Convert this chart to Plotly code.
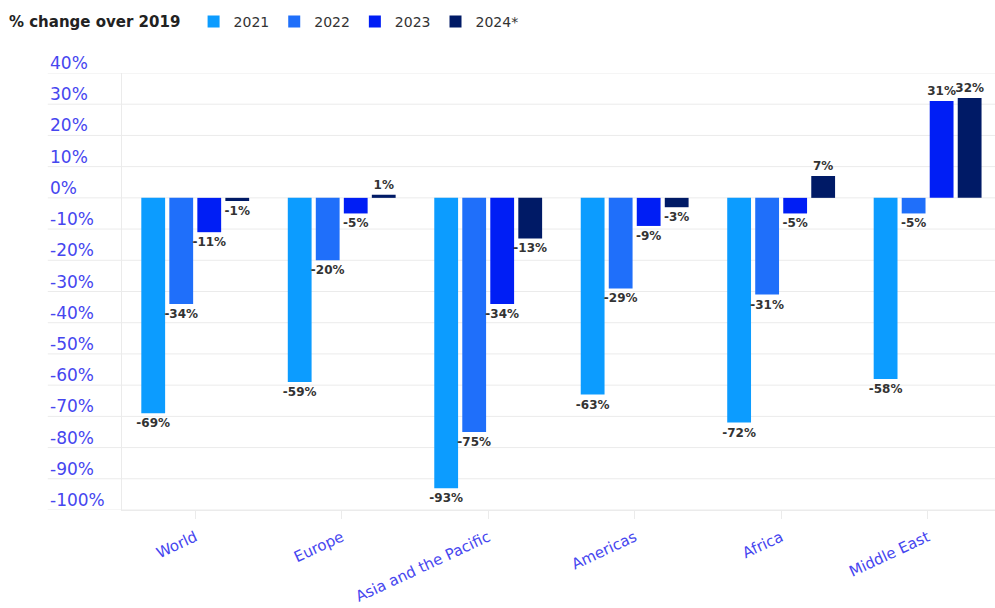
import plotly.graph_objects as go

regions = ["World", "Europe", "Asia and the Pacific", "Americas", "Africa", "Middle East"]
series_names = ["2021", "2022", "2023", "2024*"]
v2021 = [-69, -59, -93, -63, -72, -58]
v2022 = [-34, -20, -75, -29, -31, -5]
v2023 = [-11, -5, -34, -9, -5, 31]
v2024 = [-1, 1, -13, -3, 7, 32]
y_ticks = [40, 30, 20, 10, 0, -10, -20, -30, -40, -50, -60, -70, -80, -90, -100]
y_tick_labels = [f"{t}%" for t in y_ticks]

colors = ["#0c9cff", "#1f6ffa", "#001ef5", "#001a66"]
values = [v2021, v2022, v2023, v2024]

FONT = "DejaVu Sans"
TICK_COLOR = "#4646ef"
GRID = "#ebebeb"

fig = go.Figure()
for name, vals, col in zip(series_names, values, colors):
    fig.add_trace(go.Bar(
        x=regions, y=vals, name=name,
        marker=dict(color=col, line=dict(width=0)),
        text=[f"{v}%" for v in vals], texttemplate="%{text}", textposition="outside",
        textfont=dict(family=FONT, size=12, color="#333333", weight="bold"),
        cliponaxis=False, constraintext="none",
    ))

shapes = []
for t in y_ticks:
    shapes.append(dict(type="line", xref="paper", yref="y", x0=-0.085, x1=1, y0=t, y1=t,
                       line=dict(color=GRID, width=1), layer="below"))

annotations = []
for t, lab in zip(y_ticks, y_tick_labels):
    annotations.append(dict(xref="paper", yref="y", x=-0.085, y=t, text=lab, showarrow=False,
                            xanchor="left", yanchor="middle", yshift=10,
                            font=dict(family=FONT, size=17, color=TICK_COLOR)))

fig.update_layout(
    width=995, height=608,
    margin=dict(l=122, r=0, t=73, b=98, autoexpand=False),
    paper_bgcolor="white", plot_bgcolor="white",
    barmode="group", bargap=0.235, bargroupgap=0.15,
    title=dict(text="<b>% change over 2019</b>", xref="container", yref="container",
               x=0.009, xanchor="left", y=1 - 22 / 608, yanchor="middle",
               font=dict(family=FONT, size=15, color="#222222")),
    legend=dict(orientation="h", xref="paper", yref="paper", x=0.082, y=1 + (73 - 6) / 437,
                xanchor="left", yanchor="top", itemwidth=30,
                font=dict(family=FONT, size=14, color="#333333"), itemclick=False,
                bgcolor="rgba(0,0,0,0)", traceorder="normal"),
    xaxis=dict(range=[-0.5, 5.46], showgrid=False, showline=True, linecolor=GRID, linewidth=1,
               ticks="outside", ticklen=8, tickcolor=GRID, tickangle=-25, automargin=False,
               ticklabelstandoff=4,
               tickfont=dict(family=FONT, size=15, color=TICK_COLOR), fixedrange=True),
    yaxis=dict(range=[-100, 40], showgrid=False, showticklabels=False, zeroline=False,
               showline=True, linecolor=GRID, linewidth=1, fixedrange=True, automargin=False),
    shapes=shapes, annotations=annotations,
)

fig.write_html("out.html", config={"displayModeBar": False},
               post_script="document.body.style.margin='0';")
